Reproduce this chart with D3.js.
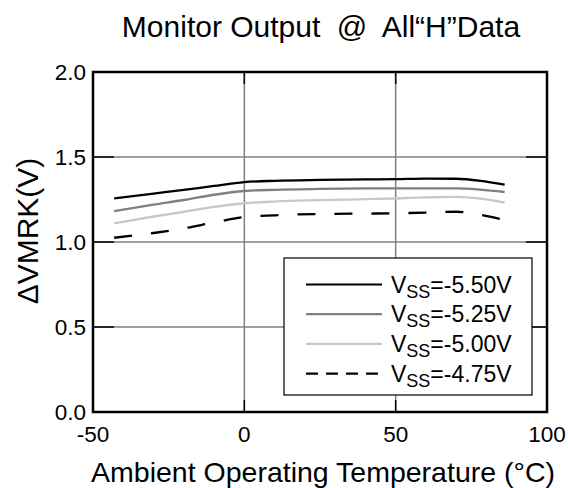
<!DOCTYPE html>
<html><head><meta charset="utf-8">
<script src="https://cdn.jsdelivr.net/npm/d3@7"></script>
<style>body{margin:0;background:#fff}svg{display:block}text{font-family:"Liberation Sans",Arial,sans-serif}</style>
</head><body><svg id="c" width="568" height="488"></svg>
<script>
const temps = [-43, -30, -20, -10, 0, 10, 25, 40, 50, 60, 70, 78, 86];
const vss550 = [1.257, 1.285, 1.306, 1.330, 1.352, 1.360, 1.365, 1.368, 1.370, 1.373, 1.372, 1.360, 1.337];
const vss525 = [1.182, 1.220, 1.247, 1.278, 1.300, 1.307, 1.312, 1.315, 1.316, 1.316, 1.316, 1.308, 1.294];
const vss500 = [1.110, 1.150, 1.178, 1.207, 1.228, 1.238, 1.246, 1.252, 1.256, 1.262, 1.266, 1.255, 1.232];
const vss475 = [1.025, 1.053, 1.080, 1.115, 1.147, 1.157, 1.165, 1.167, 1.169, 1.173, 1.178, 1.160, 1.129];
const seriesNames = ["-5.50V", "-5.25V", "-5.00V", "-4.75V"];
const xTicks = [-50, 0, 50, 100];
const yTicks = [0.0, 0.5, 1.0, 1.5, 2.0];

const series = [
  {name: seriesNames[0], values: vss550, color: "#000", dash: null},
  {name: seriesNames[1], values: vss525, color: "#808080", dash: null},
  {name: seriesNames[2], values: vss500, color: "#c8c8c8", dash: null},
  {name: seriesNames[3], values: vss475, color: "#000", dash: "18,19"}
];

const svg = d3.select("#c");
const L = 93, R = 547, T = 72, B = 412;
const x = d3.scaleLinear().domain([-50, 100]).range([L, R]);
const y = d3.scaleLinear().domain([0, 2]).range([B, T]);

// grid
const g = svg.append("g");
g.selectAll(".vg").data(xTicks.slice(1, -1)).enter().append("line")
  .attr("x1", d => x(d)).attr("x2", d => x(d)).attr("y1", T).attr("y2", B)
  .attr("stroke", "#808080").attr("stroke-width", 1.5);
g.selectAll(".hg").data(yTicks.slice(1, -1)).enter().append("line")
  .attr("y1", d => y(d)).attr("y2", d => y(d)).attr("x1", L).attr("x2", R)
  .attr("stroke", "#808080").attr("stroke-width", 1.5);
// inward ticks
g.selectAll(".yt").data(yTicks.slice(1, -1)).enter().append("path")
  .attr("d", d => `M${L},${y(d)}h21M${R},${y(d)}h-21`)
  .attr("stroke", "#000").attr("stroke-width", 1.5);
g.selectAll(".xt").data(xTicks.slice(1, -1)).enter().append("path")
  .attr("d", d => `M${x(d)},${T}v12M${x(d)},${B}v-12`)
  .attr("stroke", "#000").attr("stroke-width", 1.5);

// lines
const line = d3.line().x((d, i) => x(temps[i])).y(d => y(d)).curve(d3.curveMonotoneX);
series.forEach(s => {
  svg.append("path").attr("d", line(s.values)).attr("fill", "none")
    .attr("stroke", s.color).attr("stroke-width", 2.3)
    .attr("stroke-dasharray", s.dash);
});

// frame
svg.append("rect").attr("x", L).attr("y", T).attr("width", R - L).attr("height", B - T)
  .attr("fill", "none").attr("stroke", "#000").attr("stroke-width", 2.5);

// axes labels
svg.selectAll(".xl").data(xTicks).enter().append("text")
  .attr("x", d => x(d)).attr("y", 442).attr("text-anchor", "middle")
  .attr("font-size", 22.5).text(d => d);
svg.selectAll(".yl").data(yTicks).enter().append("text")
  .attr("x", 86).attr("y", d => y(d) + 8).attr("text-anchor", "end")
  .attr("font-size", 22.5).text(d => d.toFixed(1));

svg.append("text").attr("x", 323).attr("y", 482).attr("text-anchor", "middle")
  .attr("font-size", 28.5).text("Ambient Operating Temperature (°C)");
svg.append("text").attr("transform", "translate(38,231) rotate(-90)").attr("text-anchor", "middle")
  .attr("font-size", 30).text("\u0394VMRK(V)");
const title = svg.append("text").attr("x", 321).attr("y", 37).attr("text-anchor", "middle")
  .attr("font-size", 30);
title.append("tspan").text("Monitor Output");
title.append("tspan").attr("dx", 8).text(" @");
title.append("tspan").attr("dx", 8).text(" All\u201cH\u201dData");

// legend
const lg = svg.append("g");
lg.append("rect").attr("x", 284).attr("y", 258).attr("width", 248).attr("height", 137)
  .attr("fill", "#fff").attr("stroke", "#000").attr("stroke-width", 1.2);
series.forEach((s, i) => {
  const ly = 284.5 + i * 29.7;
  lg.append("line").attr("x1", 306).attr("x2", 382).attr("y1", ly).attr("y2", ly)
    .attr("stroke", s.color).attr("stroke-width", 2.2).attr("stroke-dasharray", s.dash ? "12,8" : null);
  const t = lg.append("text").attr("x", 391).attr("y", ly + 8).attr("font-size", 23);
  t.append("tspan").text("V");
  t.append("tspan").attr("font-size", 18).attr("dy", 5).text("SS");
  t.append("tspan").attr("dy", -5).text("=" + s.name);
});
</script></body></html>
